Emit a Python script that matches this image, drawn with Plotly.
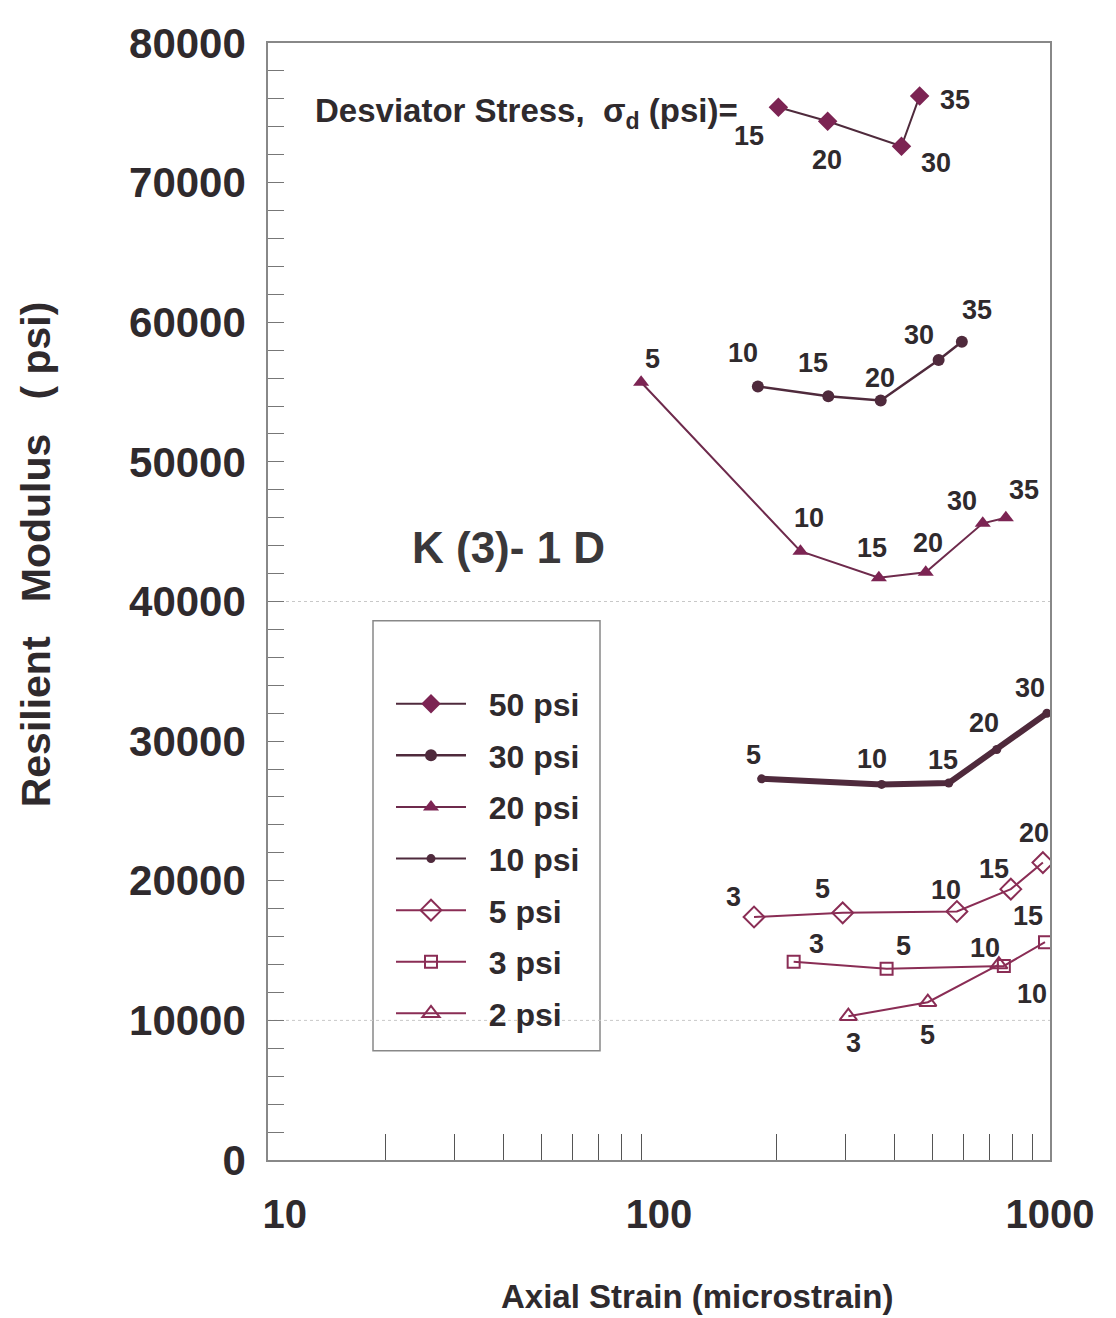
import math
import plotly.graph_objects as go

# ---------------- data ----------------
# Confining pressure series: axial strain (microstrain), resilient modulus (psi), deviator stress labels
strain_50 = [202, 270, 417, 464]
mr_50 = [75400, 74400, 72600, 76200]
sd_50 = ["15", "20", "30", "35"]

strain_30 = [179, 271, 369, 519, 595]
mr_30 = [55400, 54700, 54400, 57300, 58600]
sd_30 = ["10", "15", "20", "30", "35"]

strain_20 = [90, 230, 365, 481, 673, 771]
mr_20 = [55700, 43600, 41700, 42100, 45600, 46000]
sd_20 = ["5", "10", "15", "20", "30", "35"]

strain_10 = [183, 371, 551, 731, 982]
mr_10 = [27300, 26900, 27000, 29400, 32000]
sd_10 = ["5", "10", "15", "20", "30"]

strain_5 = [175, 295, 578, 794, 959]
mr_5 = [17400, 17700, 17800, 19400, 21300]
sd_5 = ["3", "5", "10", "15", "20"]

strain_3 = [221, 382, 762, 971]
mr_3 = [14200, 13700, 13900, 15600]
sd_3 = ["3", "5", "10", "15"]

strain_2 = [305, 487, 740]
mr_2 = [10300, 11300, 14000]
sd_2 = ["3", "5", "10"]

series_names = ["50 psi", "30 psi", "20 psi", "10 psi", "5 psi", "3 psi", "2 psi"]
x_tick_labels = ["10", "100", "1000"]
x_tick_values = [10, 100, 1000]
x_minor_values = [20, 30, 40, 50, 60, 70, 80, 90, 200, 300, 400, 500, 600, 700, 800, 900]
y_tick_values = [0, 10000, 20000, 30000, 40000, 50000, 60000, 70000, 80000]

# ---------------- styles ----------------
FONT = "Liberation Sans"
TXT = "#2f2a2d"
MAROON = "#7c2453"
DARK = "#4f2a3c"

series = [
    (strain_50, mr_50, sd_50, dict(symbol="diamond", size=15, color=MAROON), DARK, 2,
     [(-29, 29), (-1, 39), (35, 17), (35, 4)]),
    (strain_30, mr_30, sd_30, dict(symbol="circle", size=12, color=DARK), DARK, 2.5,
     [(-15, -33), (-15, -33), (-1, -22), (-20, -25), (15, -32)]),
    (strain_20, mr_20, sd_20, dict(symbol="triangle-up", size=14, color=MAROON), "#6e2a4c", 2,
     [(11, -23), (9, -33), (-7, -30), (2, -29), (-21, -22), (18, -28)]),
    (strain_10, mr_10, sd_10, dict(symbol="circle", size=9, color=DARK), DARK, 2,
     [(-8, -24), (-10, -25), (-6, -23), (-13, -27), (-17, -25)]),
    (strain_5, mr_5, sd_5, dict(symbol="diamond-open", size=16, color="#8a2d55", line=dict(width=2)), "#8a2d55", 2,
     [(-21, -20), (-20, -24), (-11, -21), (-17, -20), (-9, -30)]),
    (strain_3, mr_3, sd_3, dict(symbol="square-open", size=12, color="#8a2d55", line=dict(width=2)), "#8a2d55", 2,
     [(23, -18), (17, -23), (-19, -18), (-17, -26)]),
    (strain_2, mr_2, sd_2, dict(symbol="triangle-up-open", size=15, color="#8a2d55", line=dict(width=2)), "#8a2d55", 2,
     [(5, 27), (0, 33), (33, 29)]),
]

fig = go.Figure()

# thick line for the 10 psi series (as drawn in the original)
fig.add_trace(go.Scatter(x=strain_10, y=mr_10, mode="lines",
                         line=dict(color=DARK, width=6), showlegend=False,
                         legendgroup="thick", hoverinfo="skip"))

annotations = []
for i, (xs, ys, labs, mk, lc, lw, offs) in enumerate(series):
    fig.add_trace(go.Scatter(
        x=xs, y=ys, mode="lines+markers", name=f"&nbsp;&nbsp;<b>{series_names[i]}</b>",
        legendgroup=f"g{i}",
        line=dict(color=lc, width=lw), marker=mk,
    ))
    for xv, yv, t, (dx, dy) in zip(xs, ys, labs, offs):
        annotations.append(dict(
            x=math.log10(xv), y=yv, xref="x", yref="y", text=f"<b>{t}</b>",
            showarrow=False, xshift=dx, yshift=-dy,
            font=dict(family=FONT, size=27, color=TXT),
        ))

# plot area in page pixels: x 268..1050, y 35..1160 (page has an 8px body margin)
def px(xp):
    return (xp - 268) / 782.0

def py(yp):
    return (1160 - yp) / 1125.0

annotations += [
    dict(text="<b>Desviator Stress,  σ<sub>d</sub> (psi)=</b>", xref="paper", yref="paper",
         x=px(313), y=py(105), xanchor="left", yanchor="middle", showarrow=False,
         font=dict(family=FONT, size=33, color=TXT)),
    dict(text="<b>K (3)- 1 D</b>", xref="paper", yref="paper", x=px(508), y=py(543),
         xanchor="center", yanchor="middle", showarrow=False,
         font=dict(family=FONT, size=44, color="#3a383a")),
    dict(text="<b>Axial Strain (microstrain)</b>", xref="paper", yref="paper",
         x=px(697), y=py(1297), xanchor="center", yanchor="middle", showarrow=False,
         font=dict(family=FONT, size=33, color=TXT)),
    dict(text="<b>Resilient   Modulus   ( psi)</b>", xref="paper", yref="paper",
         x=px(36), y=py(550), xanchor="center", yanchor="middle", showarrow=False,
         textangle=-90, font=dict(family=FONT, size=41, color=TXT)),
]

shapes = [
    dict(type="rect", xref="paper", yref="paper", x0=px(373), x1=px(600), y0=py(1050), y1=py(617),
         line=dict(color="#888888", width=1.5), fillcolor="rgba(0,0,0,0)", layer="below"),
]

fig.update_layout(
    width=1108, height=1310,
    paper_bgcolor="white", plot_bgcolor="white",
    margin=dict(l=260, r=66, t=27, b=158),
    font=dict(family=FONT, color=TXT),
    annotations=annotations, shapes=shapes,
    legend=dict(x=px(391), y=py(673), xanchor="left", yanchor="top",
                bgcolor="rgba(0,0,0,0)", borderwidth=0,
                font=dict(family=FONT, size=32, color=TXT),
                tracegroupgap=7, itemwidth=70),
    showlegend=True,
)

x_text = [f"<b>{t}</b>" for t in x_tick_labels]
x_text[0] = "<b>&nbsp;&nbsp;&nbsp;10</b>"

fig.update_xaxes(
    type="log", range=[1, 3],
    tickmode="array", tickvals=x_tick_values, ticktext=x_text,
    ticks="", ticklabelstandoff=18,
    tickfont=dict(family=FONT, size=40, color=TXT),
    minor=dict(tickmode="array", tickvals=x_minor_values, ticks="inside", ticklen=26,
               tickcolor="#555555", tickwidth=1.2),
    showgrid=False, zeroline=False,
    showline=True, linecolor="#888888", linewidth=1.5, mirror=True,
)
fig.update_yaxes(
    range=[0, 80000],
    tickmode="array", tickvals=y_tick_values,
    ticktext=[f"<b>{v}</b>" for v in y_tick_values],
    ticks="inside", ticklen=16, tickcolor="#777777", tickwidth=1,
    ticklabelstandoff=12,
    tickfont=dict(family=FONT, size=42, color=TXT),
    minor=dict(dtick=2000, ticks="inside", ticklen=16, tickcolor="#777777", tickwidth=1),
    showgrid=False, zeroline=False,
    showline=True, linecolor="#888888", linewidth=1.5, mirror=True,
)

# faint horizontal rules visible in the original at 10000 and 40000
for yv in (10000, 40000):
    fig.add_hline(y=yv, line=dict(color="#c8c8c8", width=1, dash="dot"), layer="below")

fig.write_html("out.html")
